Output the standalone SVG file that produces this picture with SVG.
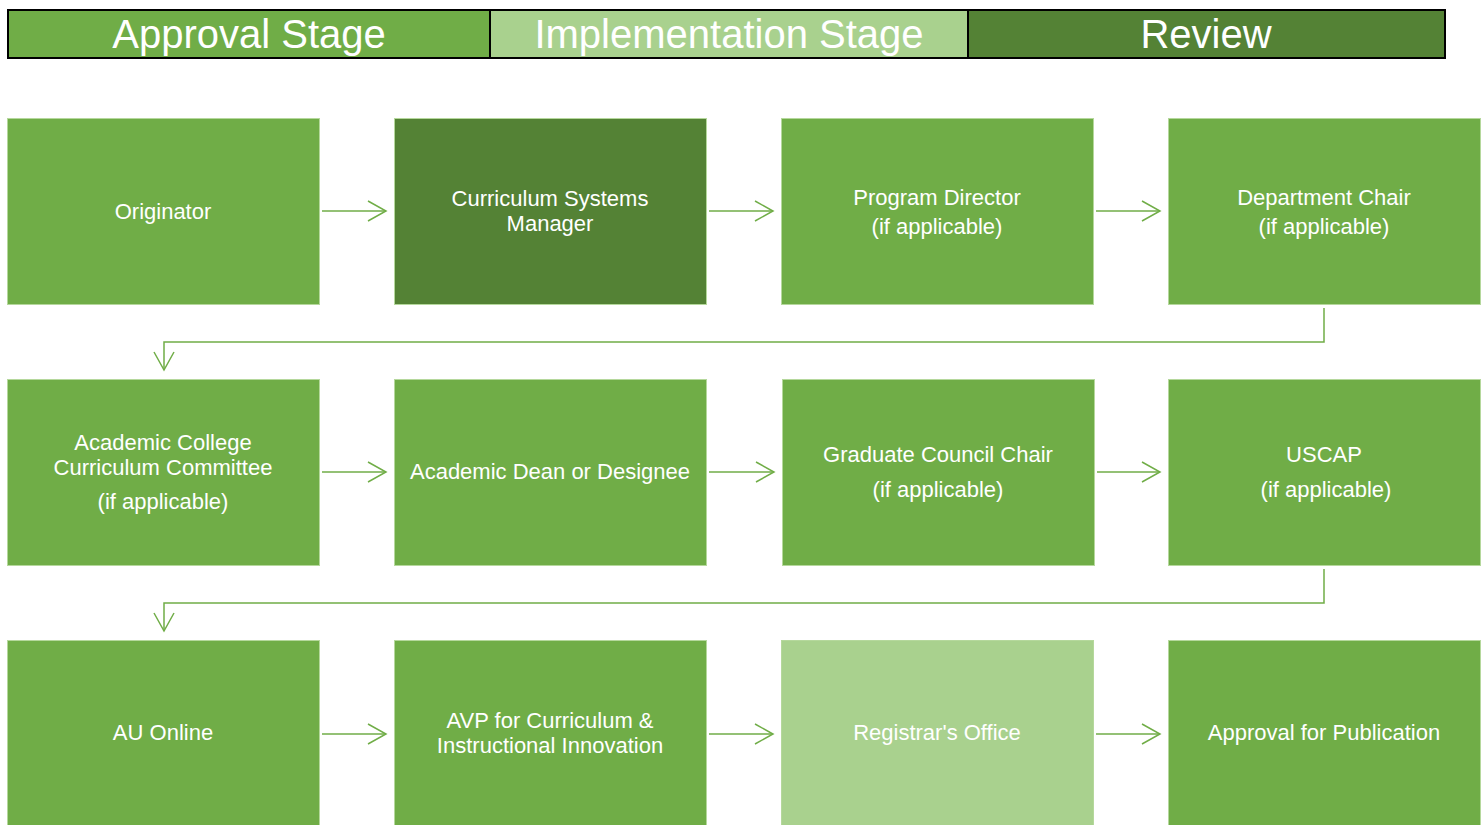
<svg xmlns="http://www.w3.org/2000/svg" width="1483" height="825" viewBox="0 0 1483 825">
<style>
.box{fill:#70ad47;stroke:#b5d89c;stroke-width:1}
.dark{fill:#548235}
.light{fill:#a9d18e}
.t{font-family:"Liberation Sans",Arial,sans-serif;font-size:22px;fill:#ffffff;text-anchor:middle;dominant-baseline:central}
.h{font-family:"Liberation Sans",Arial,sans-serif;font-size:40px;fill:#ffffff;text-anchor:middle;dominant-baseline:central}
.c{fill:none;stroke:#70ad47;stroke-width:1.5}
</style>
<defs>
<marker id="arr" markerWidth="22" markerHeight="24" refX="19" refY="11" orient="auto" markerUnits="userSpaceOnUse">
<path d="M1,1 L19,11 L1,21" fill="none" stroke="#70ad47" stroke-width="1.5"/>
</marker>
</defs>
<rect width="1483" height="825" fill="#ffffff"/>
<g id="header">
<rect x="8" y="10" width="482" height="48" fill="#70ad47"/>
<rect x="490" y="10" width="478" height="48" fill="#a9d18e"/>
<rect x="968" y="10" width="477" height="48" fill="#548235"/>
<rect x="8" y="10" width="1437" height="48" fill="none" stroke="#000" stroke-width="2"/>
<line x1="490" y1="10" x2="490" y2="58" stroke="#000" stroke-width="2"/>
<line x1="968" y1="10" x2="968" y2="58" stroke="#000" stroke-width="2"/>
<text class="h" x="249" y="34">Approval Stage</text>
<text class="h" x="729" y="34">Implementation Stage</text>
<text class="h" x="1206" y="34">Review</text>
</g>
<g id="connectors">
<line class="c" x1="322" y1="211" x2="386" y2="211" marker-end="url(#arr)"/>
<line class="c" x1="709" y1="211" x2="773" y2="211" marker-end="url(#arr)"/>
<line class="c" x1="1096" y1="211" x2="1160" y2="211" marker-end="url(#arr)"/>
<path class="c" d="M1324,308 V342 H164 V370" marker-end="url(#arr)"/>
<line class="c" x1="322" y1="472" x2="386" y2="472" marker-end="url(#arr)"/>
<line class="c" x1="709" y1="472" x2="774" y2="472" marker-end="url(#arr)"/>
<line class="c" x1="1097" y1="472" x2="1160" y2="472" marker-end="url(#arr)"/>
<path class="c" d="M1324,569 V603 H164 V631" marker-end="url(#arr)"/>
<line class="c" x1="322" y1="734" x2="386" y2="734" marker-end="url(#arr)"/>
<line class="c" x1="709" y1="734" x2="773" y2="734" marker-end="url(#arr)"/>
<line class="c" x1="1096" y1="734" x2="1160" y2="734" marker-end="url(#arr)"/>
</g>
<g id="n1"><rect class="box" x="7.5" y="118.5" width="312" height="186"/><text class="t" x="163" y="211">Originator</text></g>
<g id="n2"><rect class="box dark" x="394.5" y="118.5" width="312" height="186"/><text class="t" x="550" y="198">Curriculum Systems</text><text class="t" x="550" y="223">Manager</text></g>
<g id="n3"><rect class="box" x="781.5" y="118.5" width="312" height="186"/><text class="t" x="937" y="197">Program Director</text><text class="t" x="937" y="226">(if applicable)</text></g>
<g id="n4"><rect class="box" x="1168.5" y="118.5" width="312" height="186"/><text class="t" x="1324" y="197">Department Chair</text><text class="t" x="1324" y="226">(if applicable)</text></g>
<g id="n5"><rect class="box" x="7.5" y="379.5" width="312" height="186"/><text class="t" x="163" y="442">Academic College</text><text class="t" x="163" y="467">Curriculum Committee</text><text class="t" x="163" y="501">(if applicable)</text></g>
<g id="n6"><rect class="box" x="394.5" y="379.5" width="312" height="186"/><text class="t" x="550" y="471">Academic Dean or Designee</text></g>
<g id="n7"><rect class="box" x="782.5" y="379.5" width="312" height="186"/><text class="t" x="938" y="454">Graduate Council Chair</text><text class="t" x="938" y="489">(if applicable)</text></g>
<g id="n8"><rect class="box" x="1168.5" y="379.5" width="312" height="186"/><text class="t" x="1324" y="454">USCAP</text><text class="t" x="1326" y="489">(if applicable)</text></g>
<g id="n9"><rect class="box" x="7.5" y="640.5" width="312" height="190"/><text class="t" x="163" y="732">AU Online</text></g>
<g id="n10"><rect class="box" x="394.5" y="640.5" width="312" height="190"/><text class="t" x="550" y="720">AVP for Curriculum &amp;</text><text class="t" x="550" y="745">Instructional Innovation</text></g>
<g id="n11"><rect class="box light" x="781.5" y="640.5" width="312" height="190"/><text class="t" x="937" y="732">Registrar's Office</text></g>
<g id="n12"><rect class="box" x="1168.5" y="640.5" width="312" height="190"/><text class="t" x="1324" y="732">Approval for Publication</text></g>
</svg>
